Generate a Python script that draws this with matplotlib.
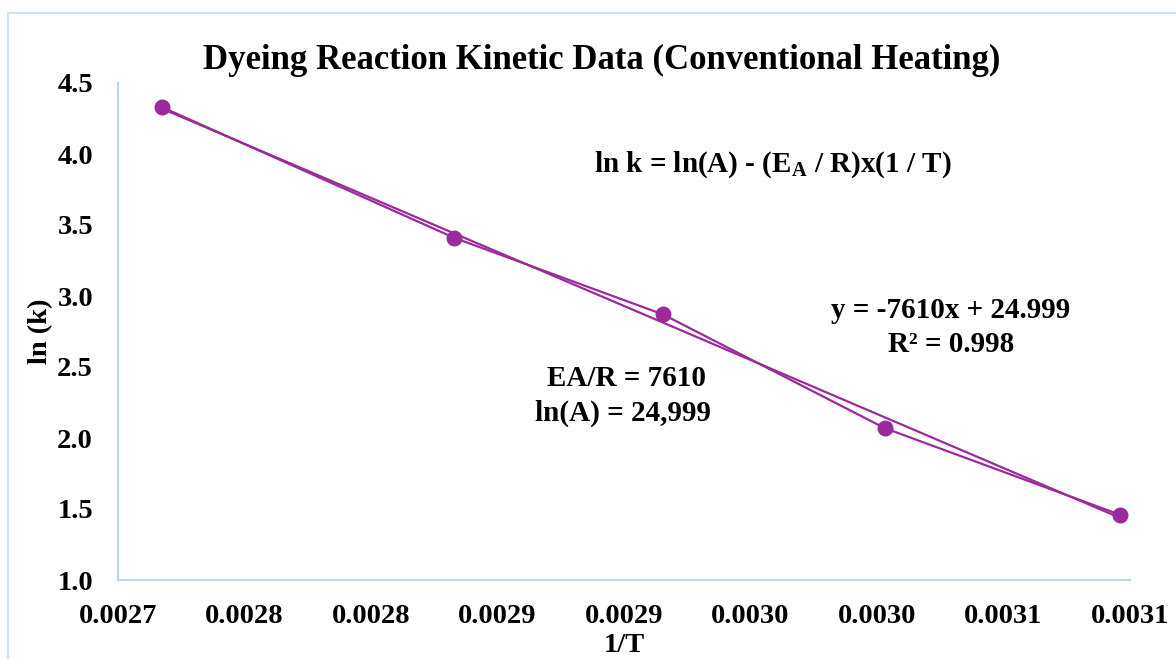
import numpy as np
import matplotlib.pyplot as plt
from matplotlib.patches import Rectangle

plt.rcParams['font.family'] = ['Liberation Serif', 'DejaVu Serif']
plt.rcParams['font.weight'] = 'bold'
plt.rcParams['mathtext.fontset'] = 'custom'
plt.rcParams['mathtext.rm'] = 'Liberation Serif:bold'

# kinetic data: 1/T (1/K) and ln(k)
inv_T = [1 / 368, 1 / 353, 1 / 343, 1 / 333, 1 / 323]
ln_k = [4.33, 3.41, 2.87, 2.07, 1.46]

# linear fit reported on the chart
slope = -7610
intercept = 24.999
r_squared = 0.998

x_ticks = [0.0027, 0.00275, 0.0028, 0.00285, 0.0029, 0.00295, 0.0030, 0.00305, 0.0031]
x_tick_labels = ['0.0027', '0.0028', '0.0028', '0.0029', '0.0029',
                 '0.0030', '0.0030', '0.0031', '0.0031']
y_ticks = [1.0, 1.5, 2.0, 2.5, 3.0, 3.5, 4.0, 4.5]

purple = '#9c2a9c'
edge = '#bcd3ec'

fig = plt.figure(figsize=(11.76, 6.59), dpi=100)
ax = fig.add_axes([118 / 1176, 1 - 580 / 659, 1012 / 1176, 497 / 659])

# outer chart frame
fig.patches.append(Rectangle((8 / 1176, -0.1), 1.2, 1.1 - 13 / 659,
                             transform=fig.transFigure, fill=False,
                             edgecolor='#cfe0f3', linewidth=1.5))

ax.plot(inv_T, ln_k, color=purple, linewidth=1.6, marker='o',
        markersize=10.5, zorder=3)

x_fit = np.array([inv_T[0], inv_T[-1]])
ax.plot(x_fit, slope * x_fit + intercept, color=purple, linewidth=1.6, zorder=2)

ax.set_xlim(0.0027, 0.0031)
ax.set_ylim(1.0, 4.5)
ax.set_xticks(x_ticks)
ax.set_xticklabels(x_tick_labels)
ax.set_yticks(y_ticks)
ax.set_yticklabels([f'{v:.1f}' for v in y_ticks])
ax.tick_params(length=0, labelsize=20.5)
ax.tick_params(axis='x', pad=17)
ax.tick_params(axis='y', pad=18)

for side in ['top', 'right']:
    ax.spines[side].set_visible(False)
for side in ['left', 'bottom']:
    ax.spines[side].set_color(edge)
    ax.spines[side].set_linewidth(1.5)

ax.set_xlabel('1/T', fontsize=20.5, fontweight='bold', labelpad=3)
ax.set_ylabel('ln (k)', fontsize=20.5, fontweight='bold', labelpad=3)
ax.set_title('Dyeing Reaction Kinetic Data (Conventional Heating)',
             fontsize=25, fontweight='bold', pad=10, x=0.478)

ax.text(0.647, 0.835, r'ln k = ln(A) - (E$_\mathregular{A}$ / R)x(1 / T)',
        transform=ax.transAxes, fontsize=21, ha='center', va='center')
ax.text(0.823, 0.543, f'y = {slope}x + {intercept}', transform=ax.transAxes,
        fontsize=21, ha='center', va='center')
ax.text(0.823, 0.474, f'R² = {r_squared}', transform=ax.transAxes,
        fontsize=21, ha='center', va='center')
ax.text(0.502, 0.405, f'EA/R = {-slope}', transform=ax.transAxes,
        fontsize=21, ha='center', va='center')
ax.text(0.499, 0.336, 'ln(A) = 24,999', transform=ax.transAxes,
        fontsize=21, ha='center', va='center')

fig.savefig('out.png', dpi=100)
